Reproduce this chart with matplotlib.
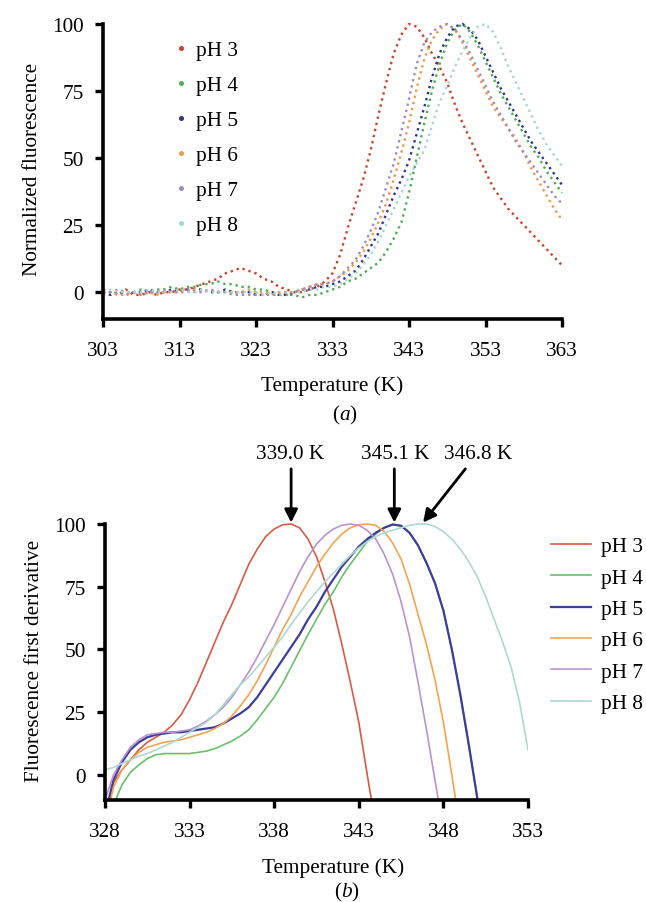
import numpy as np
import matplotlib
matplotlib.use('Agg')
from matplotlib import pyplot as plt
from matplotlib.lines import Line2D

plt.rcParams['font.family'] = ['Liberation Serif', 'DejaVu Serif']
plt.rcParams['mathtext.fontset'] = 'custom'
plt.rcParams['mathtext.rm'] = 'Liberation Serif'
plt.rcParams['mathtext.it'] = 'Liberation Serif:italic'

labels = ['pH 3', 'pH 4', 'pH 5', 'pH 6', 'pH 7', 'pH 8']

# (a) normalized fluorescence, 1 K steps 303..363
temp_a = np.arange(303, 364)
ph3_a = [1, 0, -1, 1, -1, -1, 0, -1, 0, 0,
         1, 1, 2, 3, 4, 5, 7, 8, 9, 8,
         7, 5, 4, 2, 1, 0, 0, 1, 2, 4,
         7, 14, 24, 33, 42, 53, 66, 78, 89, 96,
         100, 99, 95, 89, 84, 78, 70, 63, 57, 51,
         45, 39, 35, 31, 28, 25, 22, 19, 16, 13,
         10]
ph4_a = [0, -1, 0, 0, 0, 1, 0, 1, 1, 2,
         1, 2, 2, 3, 3, 4, 3, 3, 2, 2,
         1, 1, 0, 0, -1, -1, -2, -1, -1, 0,
         1, 2, 4, 5, 7, 9, 11, 15, 20, 26,
         37, 50, 63, 75, 85, 93, 98, 100, 97, 92,
         86, 80, 74, 69, 64, 59, 54, 50, 45, 41,
         37]
ph5_a = [0, -1, 0, -1, 0, 0, 1, 0, 0, 1,
         0, 1, 1, 1, 0, 0, 1, 0, 0, 0,
         -1, -1, 0, -1, -1, 0, 1, 1, 2, 2,
         3, 4, 6, 8, 12, 17, 22, 29, 36, 42,
         49, 59, 69, 80, 89, 95, 99, 100, 98, 94,
         88, 82, 76, 71, 66, 61, 56, 52, 48, 44,
         40]
ph6_a = [-1, 0, -1, -1, 0, -1, 0, -1, 0, 0,
         0, 0, 1, 0, 1, 0, 0, 0, 0, 1,
         0, 0, -1, 0, 0, 0, 1, 2, 3, 3,
         4, 6, 8, 11, 15, 20, 26, 33, 42, 52,
         63, 76, 87, 94, 98, 100, 98, 93, 87, 81,
         75, 69, 65, 61, 57, 52, 46, 41, 36, 31,
         27]
ph7_a = [0, 0, 1, 0, 0, -1, 0, 0, 1, 0,
         0, 1, 0, 0, 1, 0, 0, -1, -1, -1,
         -1, -1, -1, -1, -1, 0, 1, 2, 3, 3,
         4, 6, 9, 12, 17, 23, 30, 39, 48, 60,
         72, 85, 93, 97, 99, 100, 98, 94, 89, 83,
         77, 71, 66, 61, 56, 52, 48, 44, 40, 36,
         33]
ph8_a = [0, 1, 0, 0, 0, 0, 1, 0, 0, 0,
         1, 0, 0, 1, 0, 0, 0, 0, 0, 0,
         0, -1, 0, -1, 0, 0, 0, 1, 1, 2,
         2, 3, 5, 7, 10, 14, 19, 25, 31, 37,
         43, 48, 53, 62, 71, 77, 84, 90, 95, 99,
         100, 97, 91, 84, 78, 72, 66, 60, 55, 51,
         47]

# (b) first derivative, 0.5 K steps from 328
temp_b = np.arange(328, 353.25, 0.5)
ph3_b = [-20, -3, 2, 6, 10, 13, 15, 17, 20, 24,
         30, 37, 45, 53, 61, 68, 76, 84, 90, 95,
         98, 99.7, 100, 98.5, 94, 87, 77, 66, 52, 37,
         21, 0, -20]
ph4_b = [-30, -12, -4, 1, 4, 6.5, 8, 8.5, 8.5, 8.5,
         8.5, 9, 9.5, 10.5, 12, 13.5, 15.5, 18, 22, 26.5,
         31, 36.5, 43, 49.5, 56, 62, 68, 73, 79, 84,
         88.5, 93, 96, 98.5, 99.8, 99.3, 96.5, 91.5, 84.5, 76.5,
         65.5, 50, 32, 12, -9, -31]
ph5_b = [-16, -2, 5, 10, 13, 15, 16, 16.5, 17, 17,
         17.5, 18, 18.5, 19, 20.5, 22.5, 24.5, 27, 31, 36,
         41, 46, 51, 56, 62, 67, 73, 78, 83, 87,
         91, 94, 96.5, 98.5, 99.8, 99.3, 96.5, 91.5, 84.5, 76.5,
         65.5, 50, 32, 12, -9, -31]
ph6_b = [-20, -5, 2, 6, 9, 11, 12, 13, 13.5, 14,
         15, 16, 17, 18.5, 20.5, 23.5, 27.5, 32, 37.5, 44,
         51, 58, 64, 71, 77, 83, 88, 92.5, 96, 98.5,
         99.7, 100, 99.5, 97, 92.5, 86, 76, 64, 52, 38,
         21, 0, -22]
ph7_b = [-10, 0, 6, 11, 14, 16, 16.5, 17, 17, 17.5,
         18, 19.5, 21.5, 24, 27, 31, 36, 41, 47, 53.5,
         60, 67, 74, 81, 87, 92, 95.5, 98, 99.5, 100,
         99.5, 97.5, 94, 88, 80, 69, 55, 37, 18, -2,
         -22]
ph8_b = [2, 3, 4.5, 6, 7.5, 8.5, 10, 11.5, 13, 15,
         17, 19, 21, 24, 28, 32, 36, 39, 43, 47,
         51, 55, 60, 64.5, 69, 73, 77, 80.5, 84, 87.5,
         90.5, 93, 95, 96.5, 97.5, 98.5, 99.5, 100, 100, 99,
         97, 94, 90, 85, 79, 71, 62, 53, 43, 29,
         10]

peaks = [339.0, 345.1, 346.8]
peak_labels = ['339.0 K', '345.1 K', '346.8 K']

cols_a = ['#c8442c', '#4fae55', '#2e3584', '#ee9a4a', '#a08cbc', '#a6d6d4']
cols_b = ['#d85a44', '#6bbf6a', '#3d3d9a', '#f2a452', '#bb92cf', '#acd9d2']

FS = 15.3
fig = plt.figure(figsize=(6.46, 9.03), dpi=100)
W, H = 646, 903
ax1 = fig.add_axes([103/W, 1-320/H, 459/W, 300.4/H])
ax2 = fig.add_axes([105/W, 1-801/H, 423/W, 281/H])

for ax in (ax1, ax2):
    ax.spines['top'].set_visible(False)
    ax.spines['right'].set_visible(False)
    ax.spines['left'].set_linewidth(2.6)
    ax.spines['bottom'].set_linewidth(2.6)
    ax.spines['left'].set_bounds(-10, 100)
    ax.set_ylim(-10, 102)
    ax.set_yticks([0, 25, 50, 75, 100])
    ax.tick_params(direction='out', length=6, width=2.4, labelsize=FS)
    ax.tick_params(axis='x', pad=10)
    ax.tick_params(axis='y', pad=8)

# panel (a)
series_a = [ph3_a, ph4_a, ph5_a, ph6_a, ph7_a, ph8_a]
for vals, c in zip(series_a, cols_a):
    ax1.plot(temp_a, vals, ls=':', lw=1.7, color=c, clip_on=False)
ax1.set_xlim(303, 363)
ax1.set_xticks(np.arange(303, 364, 10))
ax1.set_ylabel('Normalized fluorescence', fontsize=FS, labelpad=7)
ax1.set_xlabel('Temperature (K)', fontsize=FS, labelpad=11)
hand_a = [Line2D([], [], ls='none', marker='o', ms=2.6, color=c) for c in cols_a]
ax1.legend(hand_a, labels, loc='upper left', bbox_to_anchor=(0.157, 0.927),
           frameon=False, fontsize=FS, handlelength=0.6, handletextpad=0.4,
           labelspacing=0.71, borderpad=0, borderaxespad=0)
fig.text(345/W, 1-415/H, r'($\mathit{a}$)', ha='center', va='center', fontsize=FS)

# panel (b)
series_b = [ph3_b, ph4_b, ph5_b, ph6_b, ph7_b, ph8_b]
lws = [1.2, 1.2, 1.6, 1.2, 1.2, 1.2]
lines = []
for vals, c, w in zip(series_b, cols_b, lws):
    ln, = ax2.plot(temp_b[:len(vals)], vals, lw=w, color=c)
    lines.append(ln)
ax2.set_xlim(328, 353)
ax2.set_xticks(np.arange(328, 354, 5))
ax2.set_ylabel('Fluorescence first derivative', fontsize=FS, labelpad=7)
ax2.set_xlabel('Temperature (K)', fontsize=FS)
ax2.xaxis.set_label_coords(0.539, -0.205)
fig.legend(lines, labels, loc='upper left', bbox_to_anchor=(551/W, 1-537.5/H),
           frameon=False, fontsize=FS, handlelength=1.9, handletextpad=0.45,
           labelspacing=0.54, borderpad=0, borderaxespad=0)
fig.text(347/W, 1-892/H, r'($\mathit{b}$)', ha='center', va='center', fontsize=FS)

aprops = dict(arrowstyle='-|>,head_length=0.55,head_width=0.28', lw=2,
              color='k', shrinkA=0, shrinkB=0, mutation_scale=14)
tails = [(339.0, 122), (345.1, 122), (349.3, 122)]
text_x = [338.95, 345.16, 350.07]
for p, lab, tl, tx in zip(peaks, peak_labels, tails, text_x):
    ax2.annotate('', xy=(p, 100.6), xytext=tl, arrowprops=aprops)
    ax2.text(tx, 128, lab, ha='center', va='center', fontsize=FS)

fig.savefig('out.png', dpi=100)
